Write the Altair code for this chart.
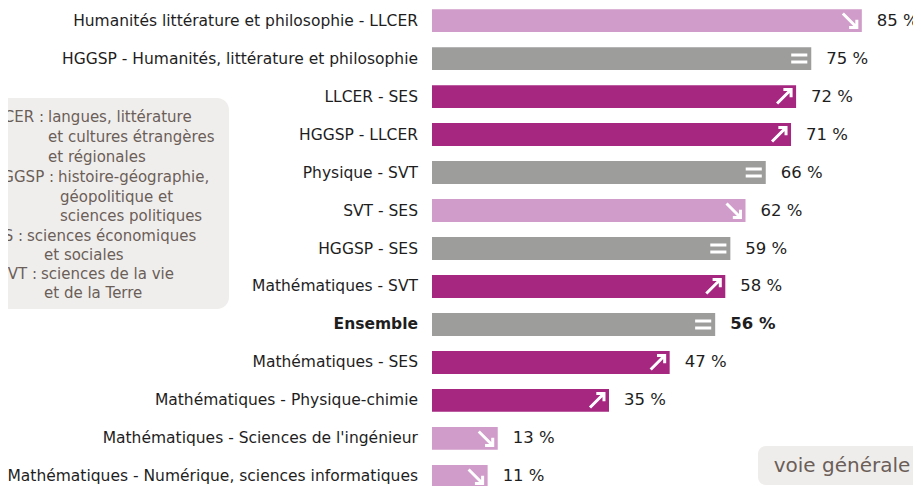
import altair as alt
import pandas as pd

labels = [
    "Humanités littérature et philosophie - LLCER",
    "HGGSP - Humanités, littérature et philosophie",
    "LLCER - SES",
    "HGGSP - LLCER",
    "Physique - SVT",
    "SVT - SES",
    "HGGSP - SES",
    "Mathématiques - SVT",
    "Ensemble",
    "Mathématiques - SES",
    "Mathématiques - Physique-chimie",
    "Mathématiques - Sciences de l'ingénieur",
    "Mathématiques - Numérique, sciences informatiques",
]
values = [85, 75, 72, 71, 66, 62, 59, 58, 56, 47, 35, 13, 11]
trends = ["down", "eq", "up", "up", "eq", "down", "eq", "up", "eq", "up", "up", "down", "down"]

legend_prefix = ["LLCER :", "", "", "HGGSP :", "", "", "SES :", "", "SVT :", ""]
legend_text = [
    "langues, littérature",
    "et cultures étrangères",
    "et régionales",
    "histoire-géographie,",
    "géopolitique et",
    "sciences politiques",
    "sciences économiques",
    "et sociales",
    "sciences de la vie",
    "et de la Terre",
]
# layout of the annotation box (pixel positions relative to plot origin)
legend_x = [-384, -384, -384, -374, -372, -372, -405, -388, -391, -388]
legend_y = [109, 129, 149, 169, 189, 208, 228, 247, 266, 285]

FONT = "DejaVu Sans"
TXT = "#1e1e1e"
NOTE = "#6b5e58"
PINK = "#d09cc9"
GRAY = "#9d9d9c"
MAGENTA = "#a52780"

df = pd.DataFrame({
    "label": labels,
    "value": values,
    "trend": trends,
    "text": [f"{v} %" for v in values],
    "bold": [l == "Ensemble" for l in labels],
})

leg = pd.DataFrame({
    "prefix": legend_prefix,
    "content": legend_text,
    "x": legend_x,
    "y": legend_y,
})

yenc = alt.Y("label:N", sort=labels, axis=None,
             scale=alt.Scale(paddingInner=0.4, paddingOuter=0.03))
xscale = alt.Scale(domain=[0, 88], nice=False)

bars = alt.Chart(df).mark_bar().encode(
    x=alt.X("value:Q", scale=xscale, axis=None),
    y=yenc,
    color=alt.Color("trend:N", scale=alt.Scale(domain=["down", "eq", "up"], range=[PINK, GRAY, MAGENTA]), legend=None),
)

UP = "M -1 1 L 1 -1 M -0.1 -1 L 1 -1 L 1 0.1"
DOWN = "M -1 -1 L 1 1 M 1 -0.1 L 1 1 L -0.1 1"
EQ = "M -1.15 -0.5 L 1.15 -0.5 M -1.15 0.5 L 1.15 0.5"

icons = alt.Chart(df).mark_point(filled=False, stroke="white", strokeWidth=3, opacity=1, xOffset=-12, size=196).encode(
    x=alt.X("value:Q", scale=xscale),
    y=yenc,
    shape=alt.Shape("trend:N", scale=alt.Scale(domain=["down", "eq", "up"], range=[DOWN, EQ, UP]), legend=None),
)

def value_layer(weight, bold):
    return alt.Chart(df).transform_filter(
        "datum.bold" if bold else "!datum.bold"
    ).mark_text(align="left", baseline="middle", dx=15, font=FONT, fontSize=16.5, color=TXT, fontWeight=weight).encode(
        x=alt.X("value:Q", scale=xscale),
        y=yenc,
        text="text:N",
    )

def cat_layer(weight, bold):
    return alt.Chart(df).transform_filter(
        "datum.bold" if bold else "!datum.bold"
    ).mark_text(align="right", baseline="middle", font=FONT, fontSize=15.5, color=TXT, fontWeight=weight).encode(
        x=alt.value(-14),
        y=yenc,
        text="label:N",
    )

box_df = pd.DataFrame({"k": [0]})
note_box = alt.Chart(box_df).mark_rect(color="#f0eeed", cornerRadius=12).encode(
    x=alt.value(-460), x2=alt.value(-203), y=alt.value(90), y2=alt.value(301)
)
note_content = alt.Chart(leg).mark_text(align="left", baseline="middle", font=FONT, fontSize=15, color=NOTE).encode(
    x=alt.X("x:Q", scale=None), y=alt.Y("y:Q", scale=None), text="content:N"
)
note_prefix = alt.Chart(leg).mark_text(align="right", baseline="middle", font=FONT, fontSize=15, color=NOTE, dx=-4).encode(
    x=alt.X("x:Q", scale=None), y=alt.Y("y:Q", scale=None), text="prefix:N"
)

tag_box = alt.Chart(box_df).mark_rect(color="#efedeb", cornerRadius=8).encode(
    x=alt.value(326), x2=alt.value(500), y=alt.value(438), y2=alt.value(477)
)
tag_text = alt.Chart(pd.DataFrame({"t": ["voie générale"]})).mark_text(
    align="center", baseline="middle", font=FONT, fontSize=20, color=NOTE
).encode(x=alt.value(410), y=alt.value(458), text="t:N")

chart = alt.layer(
    note_box, note_content, note_prefix, tag_box, tag_text, bars, icons,
    value_layer("normal", False), value_layer("bold", True),
    cat_layer("normal", False), cat_layer("bold", True),
).properties(
    width=445, height=481,
    autosize=alt.AutoSizeParams(type="none"),
    padding={"left": 424, "top": 0, "right": 36, "bottom": 0},
).configure_view(stroke=None)

chart.save("out.html", embed_options={"renderer": "svg", "actions": False})
